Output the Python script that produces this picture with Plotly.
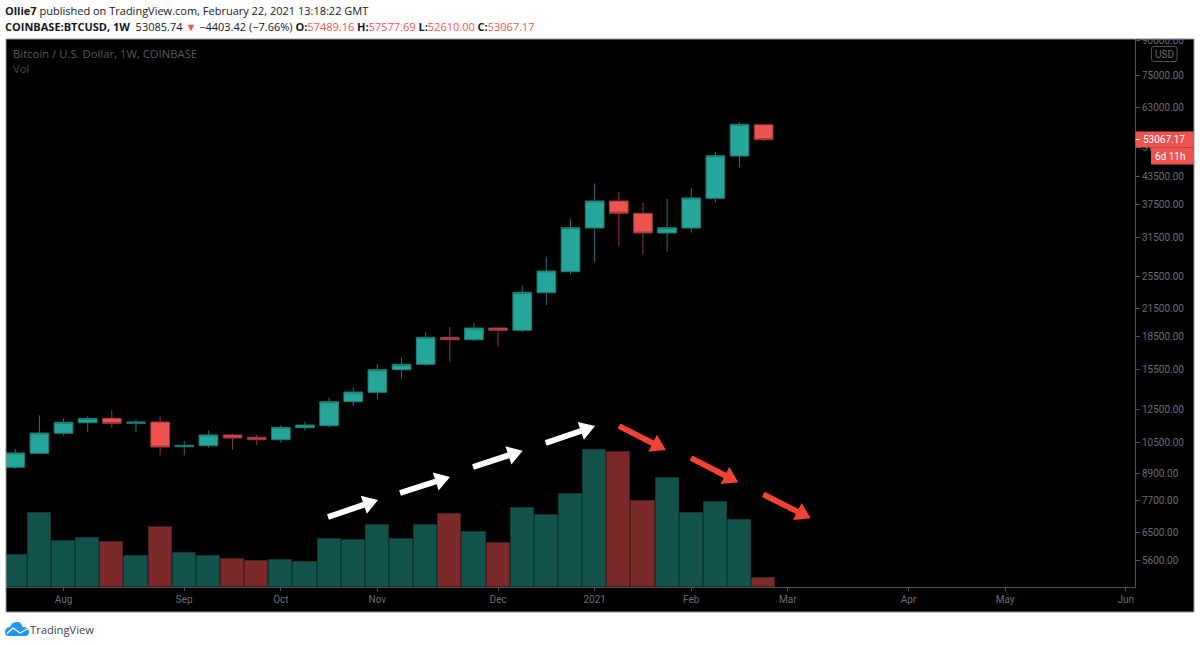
import math
from datetime import datetime, timedelta
import plotly.graph_objects as go

# ---------- data ----------
week_start = [(datetime(2020, 7, 20) + timedelta(days=7 * i)).strftime("%Y-%m-%d") for i in range(32)]
opens = [9196, 9911, 11031, 11674, 11952, 11637, 11718, 10267, 10322, 10931, 10797, 10659, 11366, 11488, 13062, 13736,
         15502, 15956, 18436, 18201, 19377, 19140, 23405, 26188, 33086, 38228, 35794, 32213, 33086, 38785, 48635, 57489.16]
highs = [10142, 12146, 11927, 12081, 12495, 11844, 12081, 10585, 11185, 11007, 10948, 11513, 11737, 13374, 14109, 15982,
         16503, 18966, 19481, 19902, 19449, 24298, 28376, 34849, 42026, 40114, 37822, 38640, 40982, 49767, 58339, 57577.69]
lows = [9127, 9911, 10890, 11090, 11366, 11090, 9806, 9806, 10213, 10104, 10361, 10490, 11185, 11390, 12765, 13203,
        14805, 15837, 16180, 18075, 17532, 18966, 21914, 25826, 27627, 30097, 28682, 29146, 32265, 37963, 45856, 52610.00]
closes = [9927, 11048, 11699, 11952, 11637, 11718, 10251, 10345, 10931, 10757, 10659, 11390, 11531, 13062, 13758, 15502,
          15956, 18436, 18201, 19377, 19140, 23455, 26286, 33139, 38228, 35794, 32213, 33139, 38847, 48713, 57625, 53067.17]
volumes = [32000, 73700, 46000, 49000, 44700, 31000, 60000, 34000, 31300, 27700, 25700, 26700, 25300, 48300, 46700, 62000,
           47700, 62000, 72700, 54700, 44300, 78700, 72300, 93000, 137300, 135000, 86000, 109300, 74000, 84700, 67000, 8700]
price_ticks = [5600, 6500, 7700, 8900, 10500, 12500, 15500, 18500, 21500, 25500, 31500, 37500, 43500, 51000, 63000, 75000, 90000]
month_ticks = ["2020-08-03", "2020-09-07", "2020-10-05", "2020-11-02", "2020-12-07", "2021-01-04", "2021-02-01",
               "2021-03-01", "2021-04-05", "2021-05-03", "2021-06-07"]
month_labels = ["Aug", "Sep", "Oct", "Nov", "Dec", "2021", "Feb", "Mar", "Apr", "May", "Jun"]

# ---------- layout helpers (pixels of the 1200x645 page -> paper fractions) ----------
L, R, T, B = 6, 1135, 39, 587
def xp(x): return (x - L) / (R - L)
def yp(y): return (B - y) / (B - T)
def P(x, y): return f"{xp(x):.5f},{yp(y):.5f}"

UP, DOWN = "#26a69a", "#ef5350"
GRAY = "#6b6e78"
LINE = "#50535e"
FONT = "Roboto"

def rect(x0, y0, x1, y1, fill, layer="above", line=None):
    return dict(type="rect", xref="paper", yref="paper", x0=xp(x0), x1=xp(x1), y0=yp(y0), y1=yp(y1), layer=layer,
                fillcolor=fill, line=dict(width=1 if line else 0, color=line or fill))

def arrow(x0, y0, x1, y1, color, shaft=5.8, head_len=15, head_w=19):
    d = math.hypot(x1 - x0, y1 - y0)
    ux, uy = (x1 - x0) / d, (y1 - y0) / d
    nx, ny = -uy, ux
    bx, by = x1 - ux * head_len, y1 - uy * head_len
    pts = [(x0 + nx * shaft / 2, y0 + ny * shaft / 2), (bx + nx * shaft / 2, by + ny * shaft / 2),
           (bx + nx * head_w / 2, by + ny * head_w / 2), (x1, y1),
           (bx - nx * head_w / 2, by - ny * head_w / 2), (bx - nx * shaft / 2, by - ny * shaft / 2),
           (x0 - nx * shaft / 2, y0 - ny * shaft / 2)]
    path = "M" + " L".join(P(*p) for p in pts) + " Z"
    return dict(type="path", xref="paper", yref="paper", path=path, fillcolor=color, line=dict(width=0), layer="above")

def text(x, y, s, size=12, color="#131722", anchor="left", family="Open Sans"):
    return dict(xref="paper", yref="paper", x=xp(x), y=yp(y), text=s, showarrow=False, xanchor=anchor, yanchor="middle",
                font=dict(size=size, color=color, family=family), xshift=0, yshift=0, borderpad=0, borderwidth=0)

# ---------- figure ----------
fig = go.Figure()
bar_colors = ["#14534d" if c >= o else "#7b2a2a" for o, c in zip(opens, closes)]
bar_edges = ["#0d3a36" if c >= o else "#521d1d" for o, c in zip(opens, closes)]
fig.add_trace(go.Bar(x=week_start, y=volumes, yaxis="y", width=7 * 86400000 * 0.96,
                     marker=dict(color=bar_colors, line=dict(color=bar_edges, width=1)), name="Vol"))
fig.add_trace(go.Candlestick(x=week_start, open=opens, high=highs, low=lows, close=closes, yaxis="y2", name="BTCUSD",
                             whiskerwidth=0,
                             increasing=dict(fillcolor=UP, line=dict(color="#1b7d74", width=1)),
                             decreasing=dict(fillcolor=DOWN, line=dict(color="#96393a", width=1))))

shapes = [
    rect(6, 39, 1194, 612, "#000000", layer="below"),
    # white band above the frame clips the top price label, as in the reference
    rect(0, 0, 1200, 38.5, "#ffffff"),
    rect(6, 39, 1194, 612, "rgba(0,0,0,0)", line="#9598a1"),
    # USD badge
    dict(type="path", xref="paper", yref="paper", layer="above", fillcolor="#000000", line=dict(color=LINE, width=1),
         path=f"M{P(1153.5,46.5)} L{P(1175,46.5)} Q{P(1177,46.5)} {P(1177,48.5)} L{P(1177,59.5)} Q{P(1177,61.5)} {P(1175,61.5)} "
              f"L{P(1153.5,61.5)} Q{P(1151.5,61.5)} {P(1151.5,59.5)} L{P(1151.5,48.5)} Q{P(1151.5,46.5)} {P(1153.5,46.5)} Z"),
    # last price and countdown labels
    rect(1135.5, 131.5, 1194, 147.5, DOWN),
    rect(1151, 147.5, 1194, 164.5, DOWN),
    dict(type="line", xref="paper", yref="paper", x0=xp(1135.5), x1=xp(1139.5), y0=yp(139.5), y1=yp(139.5),
         line=dict(color="#ffffff", width=1), layer="above"),
    # logo cloud
    dict(type="path", xref="paper", yref="paper", layer="above", fillcolor="#2196f3", line=dict(width=0),
         path=f"M{P(5,632)} Q{P(5,627.5)} {P(10,627)} Q{P(12,621.5)} {P(18,622)} Q{P(21.5,622.5)} {P(22.5,627)} "
              f"Q{P(29,627)} {P(29,632)} Q{P(29,636)} {P(25,636)} L{P(9,636)} Q{P(5,636)} {P(5,632)} Z"),
    dict(type="path", xref="paper", yref="paper", layer="above", line=dict(color="#ffffff", width=1.2),
         path=f"M{P(7,633.5)} L{P(13,628)} L{P(20,633)} L{P(28,628.5)}"),
]
for a in [(328, 517, 378, 500), (400, 493, 450, 477), (473, 467, 522.7, 450.7), (545.7, 443, 595, 426)]:
    shapes.append(arrow(*a, "#ffffff"))
for a in [(619, 426, 666, 450), (691, 458, 738.3, 482.3), (763.3, 494.3, 810.7, 518.3)]:
    shapes.append(arrow(*a, "#f44336"))

RED = "#ef5350"
def v(s): return f'<span style="color:{RED}">{s}</span>'
line2 = ("<b>COINBASE:BTCUSD, 1W</b> &nbsp;53085.74 " + v("▼") + " −4403.42 (−7.66%) "
         "<b>O:</b>" + v("57489.16") + " <b>H:</b>" + v("57577.69") + " <b>L:</b>" + v("52610.00") + " <b>C:</b>" + v("53067.17"))

annotations = [
    text(5, 10.5, "<b>Ollie7</b> published on TradingView.com, February 22, 2021 13:18:22 GMT", size=11),
    text(5, 26.5, line2, size=11),
    text(13, 53.5, "Bitcoin / U.S. Dollar, 1W, COINBASE", size=11.3, color="#575960"),
    text(13, 68.5, "Vol", size=11.3, color="#4a4c52"),
    text(1164.5, 54, "USD", size=10, color=GRAY, anchor="center", family=FONT),
    text(1143, 139.5, "53067.17", size=10, color="#ffffff", family=FONT),
    text(1155, 156.5, "6d 11h", size=10, color="#ffffff", family=FONT),
    text(30, 629, "TradingView", size=11.2, color="#3a3d45"),
]

fig.update_layout(
    width=1200, height=645, autosize=False,
    margin=dict(l=L, r=1200 - R, t=T, b=645 - B, pad=0),
    paper_bgcolor="#ffffff", plot_bgcolor="#000000", showlegend=False, hovermode=False,
    bargap=0, boxgap=0.1, boxgroupgap=0.14, shapes=shapes, annotations=annotations,
    font=dict(family=FONT, size=10, color=GRAY),
    xaxis=dict(type="date", range=["2020-07-17 07:30", "2021-06-09 16:00"], tickmode="array",
               tickvals=month_ticks, ticktext=month_labels, showgrid=False, zeroline=False, showline=True,
               linecolor=LINE, linewidth=1, ticks="outside", ticklen=3, tickcolor=LINE, tickangle=0,
               tickfont=dict(family=FONT, size=10, color=GRAY), rangeslider=dict(visible=False)),
    yaxis=dict(range=[0, 548000], visible=False, fixedrange=True),
    yaxis2=dict(type="log", overlaying="y", side="right", range=[math.log10(4847), math.log10(90960)],
                tickmode="array", tickvals=price_ticks, ticktext=[f"{t:.2f}" for t in price_ticks],
                showgrid=False, zeroline=False, showline=True, linecolor=LINE, linewidth=1, ticks="outside",
                ticklen=4, tickcolor=LINE, tickfont=dict(family=FONT, size=10, color=GRAY)),
)
fig.write_html("out.html", config={"displayModeBar": False}, post_script="document.body.style.margin='0';")
